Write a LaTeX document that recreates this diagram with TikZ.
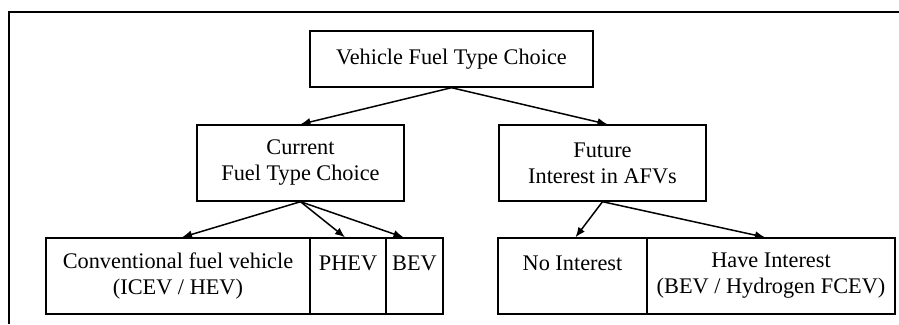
\documentclass[tikz,border=0pt]{standalone}
\usepackage{fontspec}
\setmainfont{Liberation Serif}
\usetikzlibrary{arrows.meta, positioning}

\begin{document}
\begin{tikzpicture}[x=1pt,y=-1pt,line width=1.4pt,font=\fontsize{22.3}{26}\selectfont]
    \tikzstyle{box}=[draw=black, rectangle, align=center, inner sep=0pt, minimum height=76pt]
    \tikzstyle{link}=[-{Latex[length=10pt,width=8pt]}, line width=1.5pt]

    \useasboundingbox (0,0) rectangle (899,324);

    % frame (only top and left edges are shown)
    \coordinate (F-r) at (899,12);
    \coordinate (F-c) at (9,12);
    \coordinate (F-b) at (9,324);
    \draw (F-r) -- (F-c) -- (F-b);

    \node[box, minimum width=283pt, minimum height=56pt] (top) at (451.5,59) {Vehicle Fuel Type Choice};

    \node[box, minimum width=207pt] (cur) at (300.5,163) {Current\\Fuel Type Choice};
    \node[box, minimum width=207pt] (fut) at (602.5,163) {Future\\Interest in AFVs};

    \node[box, minimum width=264pt] (conv) at (178,276) {Conventional fuel vehicle\\(ICEV / HEV)};
    \node[box, minimum width=76pt] (phev) at (348,276) {PHEV\\~};
    \node[box, minimum width=57pt] (bev) at (414.5,276) {BEV\\~};

    \node[box, minimum width=149pt] (noint) at (572.5,276) {No Interest\\~};
    \node[box, minimum width=248pt] (haveint) at (771,276) {Have Interest\\(BEV / Hydrogen FCEV)};

    \draw[link] (top.south) -- (cur.north);
    \draw[link] (top.south) -- ([xshift=5pt]fut.north);

    \draw[link] (cur.south) -- ([xshift=4pt]conv.north);
    \draw[link] (cur.south) -- ([xshift=-3pt]phev.north);
    \draw[link] (cur.south) -- ([xshift=-11pt]bev.north);

    \draw[link] (fut.south) -- ([xshift=3pt]noint.north);
    \draw[link] (fut.south) -- ([xshift=-6pt]haveint.north);
\end{tikzpicture}
\end{document}
